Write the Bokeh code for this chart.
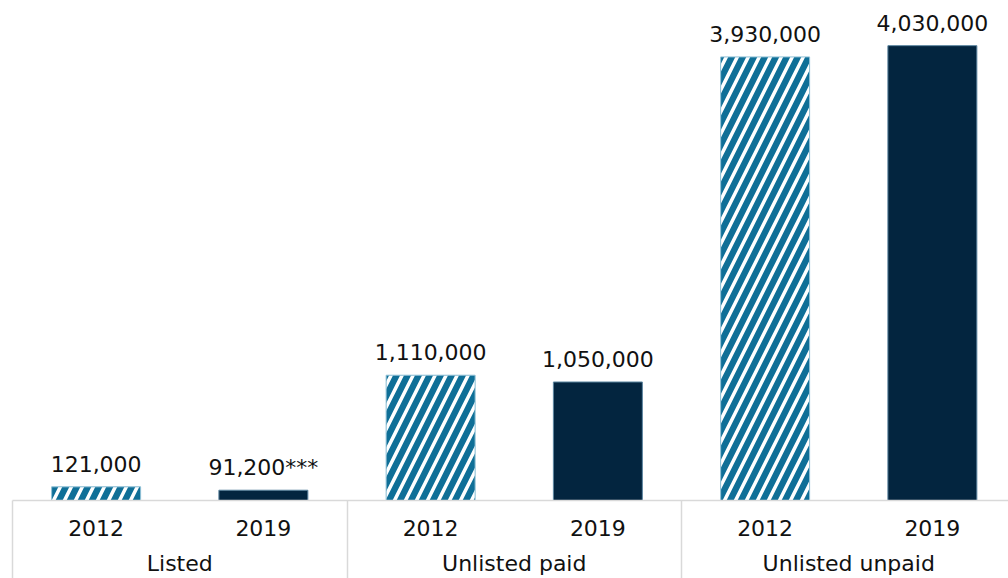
from bokeh.plotting import figure
from bokeh.models import Range1d, LinearAxis, FixedTicker, ColumnDataSource
from bokeh.core.properties import value
from bokeh.embed import file_html
from bokeh.resources import INLINE

groups = ["Listed", "Unlisted paid", "Unlisted unpaid"]
years = ["2012", "2019"]
values_2012 = [121000, 1110000, 3930000]
values_2019 = [91200, 1050000, 4030000]
labels_2012 = ["121,000", "1,110,000", "3,930,000"]
labels_2019 = ["91,200***", "1,050,000", "4,030,000"]

FONT = "DejaVu Sans"
NAVY = "#03253f"
TEAL = "#0f6f97"
GRID = "#d9d9d9"
TXT = "#111111"

x12 = [i + 0.25 for i in range(len(groups))]
x19 = [i + 0.75 for i in range(len(groups))]

p = figure(width=1008, height=578, output_backend="svg", toolbar_location=None,
           x_range=Range1d(-12 / 334.5, 3 - 7.5 / 334.5), y_range=Range1d(0, 4.43e6),
           x_axis_location=None, y_axis_location=None,
           min_border_left=0, min_border_right=0, min_border_top=0, min_border_bottom=0)
p.outline_line_color = None
p.background_fill_color = "white"
p.border_fill_color = "white"
p.xgrid.grid_line_color = None
p.ygrid.grid_line_color = None

src12 = ColumnDataSource(dict(x=x12, top=values_2012, label=labels_2012))
src19 = ColumnDataSource(dict(x=x19, top=values_2019, label=labels_2019))

p.vbar(x="x", top="top", width=0.266, source=src12, fill_color=TEAL,
       hatch_pattern="/", hatch_color="white", hatch_weight=3.5, hatch_scale=22,
       line_color="#8fc0d6", line_width=1)
p.vbar(x="x", top="top", width=0.266, source=src19, fill_color=NAVY,
       line_color="#5d86a0", line_width=1)

for s in (src12, src19):
    p.text(x="x", y="top", text="label", source=s, text_font=value(FONT),
           text_font_size=value("22px"), text_align="center",
           text_baseline="alphabetic", y_offset=-23, text_color=TXT)

year_overrides = {}
for xv in x12:
    year_overrides[xv] = years[0]
for xv in x19:
    year_overrides[xv] = years[1]

ax1 = LinearAxis(ticker=FixedTicker(ticks=x12 + x19, minor_ticks=[0, 1, 2, 3]),
                 major_label_overrides=year_overrides, bounds=(0, 3))
ax1.axis_line_color = GRID
ax1.axis_line_width = 1.5
ax1.major_tick_line_color = None
ax1.major_tick_out = 0
ax1.major_tick_in = 0
ax1.minor_tick_in = 0
ax1.minor_tick_out = 80
ax1.minor_tick_line_color = GRID
ax1.minor_tick_line_width = 1.5
ax1.major_label_text_font = FONT
ax1.major_label_text_font_size = "22px"
ax1.major_label_text_color = TXT
ax1.major_label_standoff = 19 - 80

group_overrides = {i + 0.5: g for i, g in enumerate(groups)}
ax2 = LinearAxis(ticker=FixedTicker(ticks=[i + 0.5 for i in range(len(groups))], minor_ticks=[]),
                 major_label_overrides=group_overrides)
ax2.axis_line_color = None
ax2.major_tick_line_color = None
ax2.minor_tick_line_color = None
ax2.major_tick_out = 0
ax2.major_tick_in = 0
ax2.major_label_text_font = FONT
ax2.major_label_text_font_size = "22px"
ax2.major_label_text_color = TXT
ax2.major_label_standoff = 12

p.add_layout(ax1, "below")
p.add_layout(ax2, "below")

open("out.html", "w").write(file_html(p, INLINE))
